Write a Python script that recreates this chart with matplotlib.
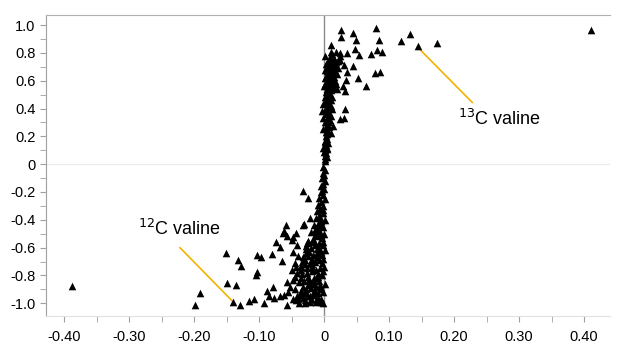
import numpy as np
import matplotlib
matplotlib.use('Agg')
import matplotlib.pyplot as plt
from matplotlib.ticker import MultipleLocator, FuncFormatter

plt.rcParams['font.family'] = ['Liberation Sans', 'DejaVu Sans']

# points with positive correlation (upper half)
x_upper = [0.410, 0.080, 0.026, 0.045, 0.132, 0.026, 0.049, 0.085, 0.118, 0.174,
           0.144, 0.011, 0.047, 0.081, 0.089, 0.011, 0.025, 0.036, 0.054, 0.073,
           0.007, 0.024, 0.019, 0.030, 0.044, 0.078, 0.086, 0.036, 0.053, 0.064,
           0.034, 0.029, 0.032, 0.020, 0.033, 0.025, 0.030, 0.014, 0.011,
           0.001, 0.002, 0.001, 0.003, 0.002, 0.004, 0.003, 0.002, 0.005, 0.003,
           0.004, 0.006, 0.003, 0.005, 0.007, 0.004, 0.006, 0.003, 0.008, 0.005,
           0.007, 0.010, 0.004, 0.006, 0.009, 0.012, 0.005, 0.008, 0.011, 0.004,
           0.007, 0.010, 0.014, 0.006, 0.009, 0.013, 0.016, 0.005, 0.008, 0.011,
           0.004, 0.015, 0.007, 0.010, 0.019, 0.003, 0.012, 0.021, 0.006, 0.016,
           0.009, 0.002, 0.013, 0.024, 0.018, 0.002, 0.001, 0.002, 0.012, 0.010,
           0.008, 0.006, 0.004, 0.003, 0.015, 0.017, 0.020, 0.002, 0.014, 0.022,
           -0.002, -0.003, -0.001, -0.002, 0.000, -0.001, 0.001, 0.000,
           0.005, 0.009, 0.013, 0.003, 0.007, 0.011, 0.001, 0.006, 0.010, 0.004,
           0.008, 0.002, 0.012, 0.006, 0.003, 0.009, 0.001, 0.005, 0.017, 0.019]
y_upper = [0.968, 0.976, 0.964, 0.944, 0.937, 0.918, 0.891, 0.891, 0.886, 0.872,
           0.853, 0.860, 0.831, 0.819, 0.807, 0.807, 0.800, 0.800, 0.783, 0.790,
           0.751, 0.746, 0.734, 0.710, 0.705, 0.657, 0.662, 0.662, 0.618, 0.565,
           0.606, 0.565, 0.529, 0.541, 0.400, 0.324, 0.331, 0.275, 0.227,
           0.02, 0.04, 0.06, 0.08, 0.10, 0.12, 0.14, 0.16, 0.18, 0.20,
           0.22, 0.24, 0.26, 0.28, 0.30, 0.32, 0.34, 0.36, 0.37, 0.39,
           0.41, 0.42, 0.44, 0.46, 0.47, 0.48, 0.50, 0.51, 0.53, 0.54,
           0.56, 0.57, 0.58, 0.59, 0.61, 0.62, 0.63, 0.64, 0.65, 0.66,
           0.67, 0.68, 0.69, 0.70, 0.70, 0.72, 0.72, 0.74, 0.74, 0.76,
           0.77, 0.78, 0.79, 0.78, 0.81, 0.30, 0.45, 0.58, 0.40, 0.35,
           0.27, 0.15, 0.05, 0.52, 0.55, 0.60, 0.65, 0.68, 0.66, 0.69,
           0.43, 0.38, 0.25, 0.12, 0.09, 0.33, 0.48, 0.56,
           0.60, 0.63, 0.71, 0.49, 0.43, 0.46, 0.39, 0.53, 0.55, 0.69,
           0.73, 0.62, 0.64, 0.41, 0.23, 0.32, 0.17, 0.11, 0.72, 0.58]

# points with negative correlation (lower half)
x_lower = [-0.387, -0.198, -0.191, -0.151, -0.133, -0.128, -0.149, -0.135, -0.140, -0.130,
           -0.115, -0.108, -0.103, -0.105, -0.103, -0.097, -0.080, -0.092, -0.088, -0.084,
           -0.079, -0.077, -0.068, -0.062, -0.057, -0.074, -0.068, -0.064, -0.059, -0.062,
           -0.057, -0.048, -0.043, -0.050, -0.041, -0.047, -0.057, -0.043, -0.032, -0.033,
           -0.024, -0.022, -0.031, -0.063,
           -0.001, 0.001, -0.002, 0.000, -0.003, 0.001, -0.002, -0.004, 0.000, -0.005,
           -0.002, -0.007, 0.001, -0.004, -0.009, -0.001, -0.006, -0.011, -0.002, -0.008,
           -0.013, 0.001, -0.005, -0.010, -0.016, -0.002, -0.008, -0.014, -0.020, 0.000,
           -0.005, -0.011, -0.017, -0.024, -0.002, -0.008, -0.014, -0.020, -0.028, 0.001,
           -0.005, -0.011, -0.017, -0.024, -0.032, -0.040, -0.002, -0.008, -0.014, -0.021,
           -0.029, -0.036, -0.045, 0.000, -0.006, -0.012, -0.018, -0.026, -0.034, -0.042,
           -0.050, -0.003, -0.009, -0.016, -0.023, -0.031, -0.039, -0.047, 0.001, -0.006,
           -0.013, -0.020, -0.028, -0.036, -0.044, -0.052, -0.002, -0.010, -0.017, -0.025,
           -0.033, -0.041, -0.005, -0.013, -0.021, -0.030, -0.038, -0.001, -0.009, -0.027,
           -0.015, -0.004, -0.022, -0.035, -0.010, -0.003, -0.019, -0.030, -0.007, -0.023,
           -0.003, -0.012, -0.006, -0.001, -0.003, -0.001,
           -0.004, -0.012, -0.019, -0.027, -0.003, -0.011, -0.018, -0.026, -0.035, -0.002,
           -0.009, -0.016, -0.024, -0.032, -0.006, -0.014, -0.022, -0.031, -0.040, -0.004,
           -0.012, -0.020, -0.029, -0.037, -0.048, -0.007, -0.015, -0.025, -0.034, -0.043,
           -0.055, -0.002, -0.011, -0.019, -0.028, -0.036, -0.045, -0.008, -0.016, -0.026]
y_lower = [-0.877, -1.010, -0.928, -0.638, -0.686, -0.734, -0.853, -0.867, -0.993, -1.010,
           -0.986, -0.969, -0.775, -0.795, -0.654, -0.667, -0.647, -0.998, -0.913, -0.949,
           -0.884, -0.962, -0.949, -0.940, -1.010, -0.558, -0.594, -0.698, -0.437, -0.480,
           -0.514, -0.522, -0.498, -0.546, -0.582, -0.630, -0.848, -0.980, -0.437, -0.196,
           -0.244, -0.389, -0.433, -0.493,
           -0.02, -0.04, -0.06, -0.08, -0.10, -0.12, -0.14, -0.16, -0.18, -0.20,
           -0.22, -0.24, -0.25, -0.27, -0.29, -0.30, -0.32, -0.34, -0.35, -0.37,
           -0.39, -0.40, -0.41, -0.43, -0.44, -0.45, -0.47, -0.48, -0.49, -0.50,
           -0.51, -0.52, -0.54, -0.55, -0.56, -0.57, -0.58, -0.60, -0.61, -0.62,
           -0.63, -0.64, -0.65, -0.66, -0.67, -0.66, -0.68, -0.69, -0.70, -0.71,
           -0.72, -0.73, -0.71, -0.74, -0.75, -0.76, -0.77, -0.78, -0.79, -0.78,
           -0.76, -0.80, -0.81, -0.82, -0.83, -0.84, -0.85, -0.83, -0.86, -0.87,
           -0.88, -0.89, -0.90, -0.91, -0.90, -0.88, -0.92, -0.93, -0.94, -0.95,
           -0.96, -0.95, -0.97, -0.98, -0.99, -0.98, -1.00, -1.00, -0.96, -0.93,
           -0.91, -0.89, -0.86, -0.82, -0.79, -0.71, -0.74, -0.69, -0.60, -0.63,
           -0.53, -0.46, -0.38, -0.33, -0.19, -0.09,
           -0.44, -0.50, -0.56, -0.59, -0.65, -0.67, -0.72, -0.75, -0.76, -0.77,
           -0.80, -0.84, -0.87, -0.88, -0.90, -0.92, -0.95, -0.93, -0.97, -0.99,
           -0.99, -0.97, -1.00, -0.94, -0.97, -0.84, -0.86, -0.81, -0.70, -0.74,
           -0.92, -0.58, -0.61, -0.68, -0.64, -0.74, -0.81, -0.50, -0.55, -0.57]

labels = [r'$^{13}$C valine', r'$^{12}$C valine']
label_pos = [(0.206, 0.326), (-0.286, -0.466)]
leader_lines = [((0.1436, 0.228), (0.843, 0.444)), ((-0.2215, -0.142), (-0.601, -0.98))]

fig = plt.figure(figsize=(6.2, 3.52), dpi=100)
ax = fig.add_axes([0.0742, 0.103, 0.9098, 0.854])

ax.axhline(0, color='#ececec', lw=1, zorder=1)
ax.axvline(0, color='#8a8a8a', lw=1, zorder=1)

ax.scatter(x_upper + x_lower, y_upper + y_lower, marker='^', s=30, c='black',
           linewidths=0, zorder=3)

for (xs, ys) in leader_lines:
    ax.plot(xs, ys, color='#f2b200', lw=1.2, zorder=2)
for txt, (tx, ty) in zip(labels, label_pos):
    ax.text(tx, ty, txt, fontsize=13, va='center', ha='left')

ax.set_xlim(-0.4277, 0.44)
ax.set_ylim(-1.09, 1.072)

ax.spines['right'].set_visible(False)
ax.spines['top'].set_color('#b0b0b0')
ax.spines['left'].set_color('#a0a0a0')
ax.spines['bottom'].set_color('#e2e2e2')

ax.xaxis.set_major_locator(MultipleLocator(0.1))
ax.xaxis.set_minor_locator(MultipleLocator(0.05))
ax.yaxis.set_major_locator(MultipleLocator(0.2))
ax.yaxis.set_minor_locator(MultipleLocator(0.1))
ax.xaxis.set_major_formatter(FuncFormatter(lambda v, p: '0' if abs(v) < 1e-9 else f'{v:.2f}'))
ax.yaxis.set_major_formatter(FuncFormatter(lambda v, p: '0' if abs(v) < 1e-9 else f'{v:.1f}'))
ax.tick_params(which='both', direction='out', color='#a0a0a0', labelsize=10.5, labelcolor='black')
ax.tick_params(which='major', length=4)
ax.tick_params(which='minor', length=4)
ax.tick_params(axis='x', pad=6)

fig.savefig('out.png', dpi=100)
